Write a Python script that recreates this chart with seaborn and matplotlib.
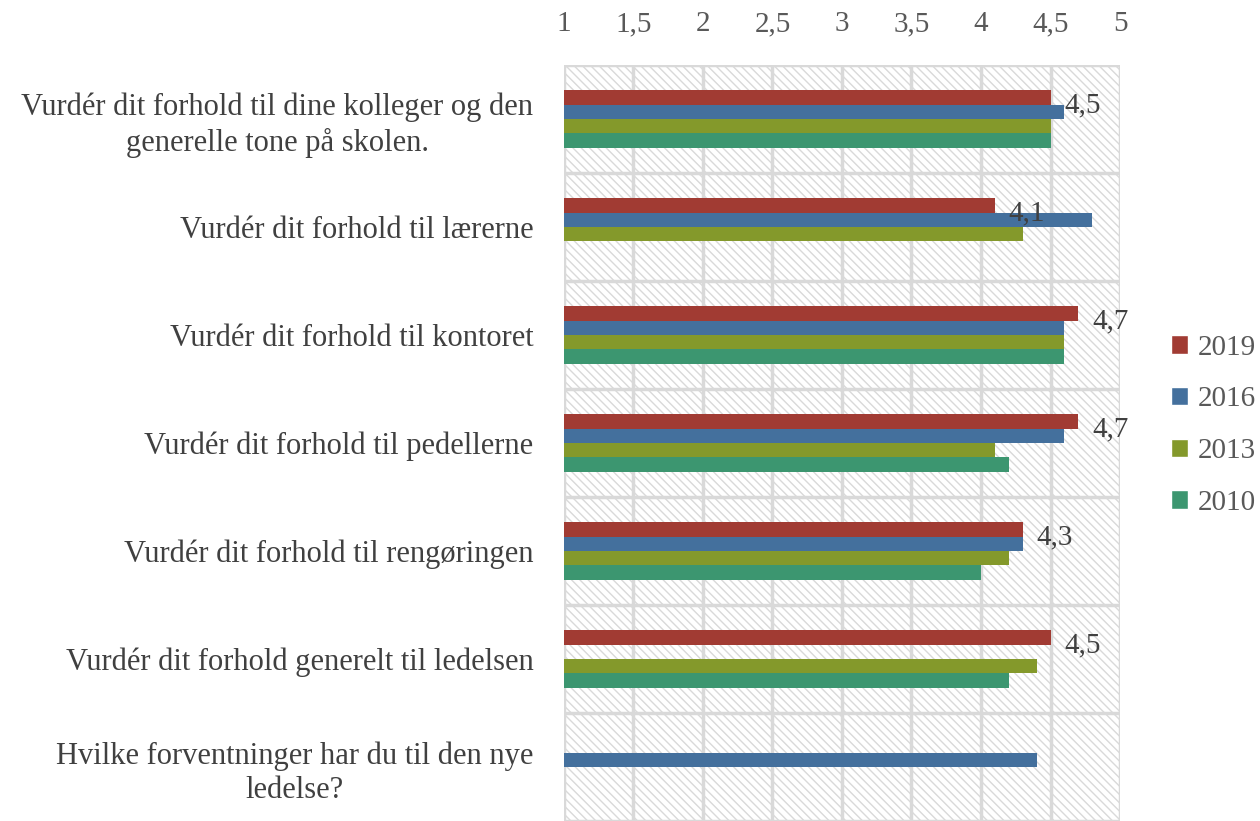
import pandas as pd
import seaborn as sns
import matplotlib.pyplot as plt
from matplotlib.patches import Rectangle, Patch

questions = [
    'Vurdér dit forhold til dine kolleger og den\ngenerelle tone på skolen.',
    'Vurdér dit forhold til lærerne',
    'Vurdér dit forhold til kontoret',
    'Vurdér dit forhold til pedellerne',
    'Vurdér dit forhold til rengøringen',
    'Vurdér dit forhold generelt til ledelsen',
    'Hvilke forventninger har du til den nye\nledelse?',
]
years = ['2019', '2016', '2013', '2010']
v2019 = [4.5, 4.1, 4.7, 4.7, 4.3, 4.5, None]
v2016 = [4.6, 4.8, 4.6, 4.6, 4.3, None, 4.4]
v2013 = [4.5, 4.3, 4.6, 4.1, 4.2, 4.4, None]
v2010 = [4.5, None, 4.6, 4.2, 4.0, 4.2, None]
colors = ['#A13B33', '#44709D', '#84992B', '#3C9670']
xticks = [1, 1.5, 2, 2.5, 3, 3.5, 4, 4.5, 5]
xticklabels = ['1', '1,5', '2', '2,5', '3', '3,5', '4', '4,5', '5']

rows = []
for year, vals in zip(years, [v2019, v2016, v2013, v2010]):
    for q, v in zip(questions, vals):
        if v is not None:
            rows.append({'question': q, 'year': year, 'value': v})
df = pd.DataFrame(rows)

sns.set_style('white')
plt.rcParams['font.family'] = ['Liberation Serif', 'DejaVu Serif']
plt.rcParams['hatch.linewidth'] = 1.0

fig = plt.figure(figsize=(12.6, 8.21), dpi=100)
ax = fig.add_axes([0.4476, 0.0, 0.4413, 0.9208])

# hatched background
ax.add_patch(Rectangle((0, 0), 1, 1, transform=ax.transAxes, facecolor='white',
                       edgecolor='#D9D9D9', hatch='\\\\\\\\', lw=0, zorder=0))

sns.barplot(data=df, y='question', x='value', hue='year', order=questions,
            hue_order=years, palette=colors, orient='h', width=0.53, gap=0,
            errorbar=None, legend=False, ax=ax, zorder=3, saturation=1,
            linewidth=0)

ax.set_xlim(1, 5)
ax.set_ylim(6.5, -0.5)
for x in xticks:
    ax.axvline(x, color='#D9D9D9', lw=2.5, zorder=1)
for i in range(len(questions) + 1):
    ax.axhline(i - 0.5, color='#D9D9D9', lw=2.5, zorder=1)

ax.xaxis.tick_top()
ax.set_xticks(xticks)
ax.set_xticklabels(xticklabels)
ax.tick_params(axis='x', length=0, pad=20, labelsize=21, labelcolor='#595959')
ax.tick_params(axis='y', length=0, pad=22, labelsize=22, labelcolor='#404040')
for lab in ax.get_yticklabels():
    lab.set_multialignment('center')
    lab.set_linespacing(1.25)
ax.set_xlabel('')
ax.set_ylabel('')
for s in ax.spines.values():
    s.set_visible(False)

# data labels for 2019
for i, v in enumerate(v2019):
    if v is not None:
        ax.text(v + 0.1, i - 0.13, f'{v:.1f}'.replace('.', ','), fontsize=21,
                color='#404040', va='center', ha='left', zorder=5)

handles = [Patch(facecolor=c, label=y) for c, y in zip(colors, years)]
fig.legend(handles=handles, loc='center left', bbox_to_anchor=(0.929, 0.482),
           frameon=False, fontsize=21, labelcolor='#595959', handlelength=0.6,
           handleheight=0.6, handletextpad=0.35, labelspacing=0.88,
           borderaxespad=0, borderpad=0)

fig.savefig('out.png', dpi=100)
